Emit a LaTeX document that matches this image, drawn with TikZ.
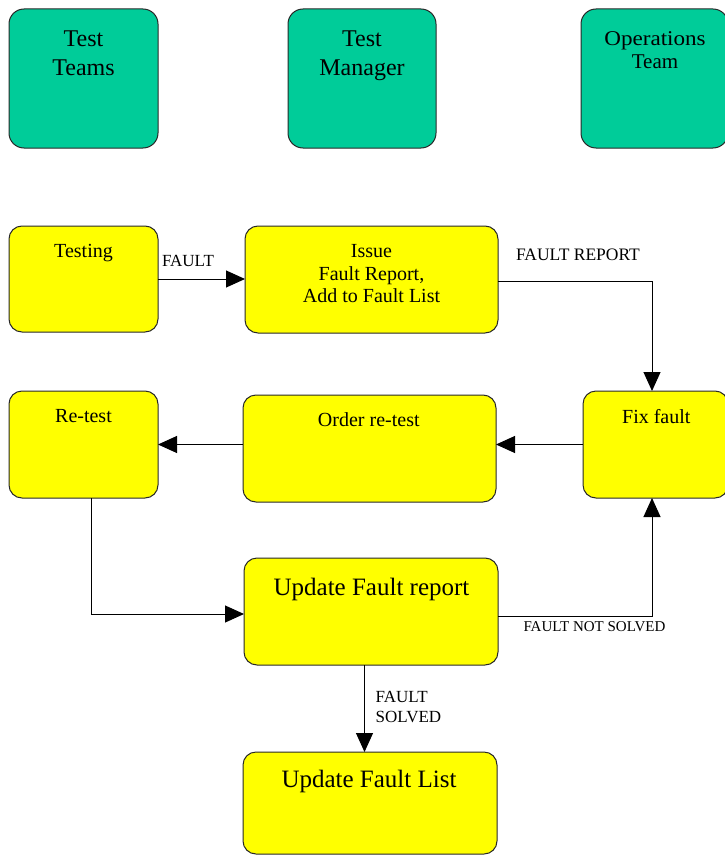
\documentclass[tikz,border=0pt]{standalone}
\usepackage{fontspec}
\setmainfont{Liberation Serif}
\usetikzlibrary{arrows.meta}
\definecolor{teamgreen}{RGB}{0,204,153}
\definecolor{boxyellow}{RGB}{255,255,0}
\definecolor{edgegray}{RGB}{40,40,40}
\tikzset{
  box/.style={draw=edgegray, line width=1pt, rounded corners=13pt, inner sep=0pt, outer sep=0pt},
  teambox/.style={box, fill=teamgreen, rounded corners=15pt},
  stepbox/.style={box, fill=boxyellow},
  txt/.style={anchor=base, inner sep=0pt, outer sep=0pt, align=center},
  lbl/.style={anchor=base west, inner sep=0pt, outer sep=0pt, align=left},
  flow/.style={line width=1pt, -{Triangle[length=19pt,width=17pt]}},
}
\newcommand{\fs}[1]{\fontsize{#1}{#1}\selectfont}
\begin{document}
\begin{tikzpicture}[x=1pt,y=-1pt]
\useasboundingbox (0,0) rectangle (724,856);
% boxes
\node[teambox, minimum width=149pt, minimum height=139pt] (tteams) at (83.5,78.5) {};
\node[teambox, minimum width=148pt, minimum height=139pt] (tmgr) at (362,78.5) {};
\node[teambox, minimum width=147pt, minimum height=139pt] (ops) at (654.5,78.5) {};
\node[stepbox, minimum width=149pt, minimum height=106pt] (testing) at (83.5,279) {};
\node[stepbox, minimum width=253pt, minimum height=107pt] (issue) at (371.5,279.5) {};
\node[stepbox, minimum width=149pt, minimum height=107pt] (retest) at (83.5,444.5) {};
\node[stepbox, minimum width=253pt, minimum height=107pt] (order) at (369.5,448.5) {};
\node[stepbox, minimum width=145pt, minimum height=107pt] (fix) at (655.5,444.5) {};
\node[stepbox, minimum width=254pt, minimum height=107pt] (ufr) at (371,611.5) {};
\node[stepbox, minimum width=254pt, minimum height=102pt] (ufl) at (370,803) {};
% texts
\node[txt] (t1) at (83.5,47) {\fs{24}Test};
\node[txt] (t1b) at (83.5,76) {\fs{24}Teams};
\node[txt] (t2) at (362,47) {\fs{24}Test};
\node[txt] (t2b) at (362,76) {\fs{24}Manager};
\node[txt] (t3) at (655,46) {\fs{21}\scalebox{1.1}[1]{Operations}};
\node[txt] (t3b) at (655,68.3) {\fs{21}Team};
\node[txt] (t4) at (83.5,257.7) {\fs{20}Testing};
\node[txt] (t5) at (371.5,257.7) {\fs{20}Issue};
\node[txt] (t5b) at (371.5,280) {\fs{20}Fault Report,};
\node[txt] (t5c) at (371.5,302.3) {\fs{20}Add to Fault List};
\node[txt] (t6) at (83.5,422.7) {\fs{20}Re-test};
\node[txt] (t7) at (368.8,426.7) {\fs{20}Order re-test};
\node[txt] (t8) at (656.3,423.3) {\fs{20}Fix fault};
\node[txt] (t9) at (371.5,595) {\fs{25}Update Fault report};
\node[txt] (t10) at (369,787.7) {\fs{25}Update Fault List};
% connector labels
\node[lbl] (l1) at (162,266.7) {\fs{17}FAULT};
\node[lbl] (l2) at (516,260.7) {\fs{17.5}FAULT REPORT};
\node[lbl] (l3) at (523.5,631.7) {\fs{15}FAULT NOT SOLVED};
\node[lbl] (l4) at (375.7,702) {\fs{17}FAULT};
\node[lbl] (l4b) at (375.7,722.7) {\fs{17}SOLVED};
% connectors
\coordinate (fixtop) at ([xshift=-3.5pt]fix.north);
\coordinate (fixbot) at ([xshift=-3.5pt]fix.south);
\coordinate (issueout) at ([yshift=-1.5pt]issue.east);
\coordinate (retestout) at ([xshift=8pt]retest.south);
\coordinate (ufrin) at ([yshift=-2.5pt]ufr.west);
\coordinate (ufrout) at ([yshift=-4.5pt]ufr.east);
\coordinate (ufrdown) at ([xshift=-6.5pt]ufr.south);
\draw[flow] (testing.east) -- (testing.east -| issue.west);
\draw[flow] (issueout) -| (fixtop);
\draw[flow] (fix.west) -- (fix.west -| order.east);
\draw[flow] (fix.west -| order.west) -- (fix.west -| retest.east);
\draw[flow] (retestout) |- (ufrin);
\draw[flow] (ufrout) -| (fixbot);
\draw[flow] (ufrdown) -- (ufrdown |- ufl.north);
\end{tikzpicture}
\end{document}
